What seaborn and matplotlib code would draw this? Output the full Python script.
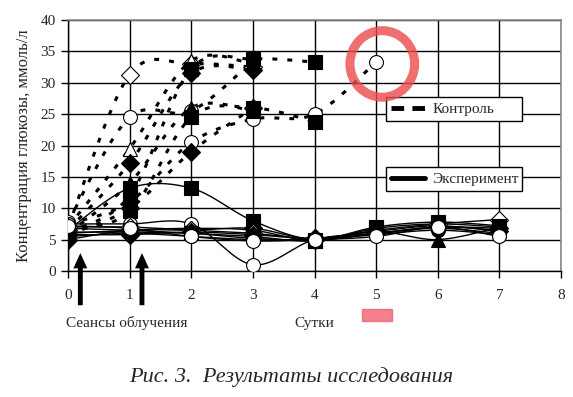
import matplotlib
matplotlib.use("Agg")

import numpy as np
import pandas as pd
import matplotlib.pyplot as plt
import seaborn as sns
from matplotlib.lines import Line2D
from matplotlib.patches import Ellipse, Rectangle

# ==========================
# Data (glucose, mmol/l, by day)
# ==========================

days = [0, 1, 2, 3, 4, 5, 6, 7]

# control group (dashed lines), one list per animal
control = [
    [7.0, 31.3, 33.0, 32.5],
    [7.8, 24.5, 25.5, 33.5],
    [7.5, 11.0, 20.5, 24.2, 25.0, 33.3],
    [7.0, 19.5, 33.5, 33.0],
    [6.5, 9.5, 24.5, 26.0, 23.8],
    [6.2, 12.0, 32.2, 33.8, 33.3],
    [6.5, 17.2, 31.5, 32.0],
    [5.8, 10.0, 19.0, 26.0],
    [6.0, 14.0, 26.0, 25.5],
]
control_markers = ["D", "o", "o", "^", "s", "s", "D", "D", "^"]
control_filled = [False, False, False, False, True, True, True, True, True]

# experiment group (solid lines)
experiment = [
    [6.5, 13.2, 13.2, 8.0, 5.0, 6.8, 7.5, 7.0],
    [7.5, 7.5, 7.5, 1.0, 5.0, 6.0, 7.0, 6.5],
    [5.5, 6.0, 5.5, 5.0, 5.0, 5.8, 6.5, 5.8],
    [5.0, 6.5, 6.5, 6.8, 5.0, 6.0, 7.0, 6.8],
    [6.0, 6.5, 6.8, 6.5, 4.8, 6.3, 5.0, 7.0],
    [7.0, 7.0, 6.5, 6.0, 5.2, 6.5, 7.5, 8.2],
    [6.8, 6.5, 6.0, 5.5, 4.8, 7.0, 7.8, 7.2],
    [6.2, 6.2, 6.0, 5.2, 5.0, 6.0, 6.8, 6.0],
    [5.8, 5.8, 6.2, 5.8, 5.2, 6.3, 7.2, 6.3],
    [7.2, 6.8, 5.5, 4.8, 5.0, 5.5, 7.0, 5.5],
]
experiment_markers = ["s", "o", "o", "D", "^", "D", "s", "o", "D", "o"]
experiment_filled = [True, False, True, True, True, False, True, True, True, False]

irradiation_days = [0.2, 1.2]


def smooth(x, y, n=20):
    # Excel-like smoothed line (Bezier with tension 1/6)
    x = np.asarray(x, float)
    y = np.asarray(y, float)
    px, py = [], []
    for i in range(len(x) - 1):
        i0 = max(i - 1, 0)
        i3 = min(i + 2, len(x) - 1)
        c1x = x[i] + (x[i + 1] - x[i0]) / 6
        c1y = y[i] + (y[i + 1] - y[i0]) / 6
        c2x = x[i + 1] - (x[i3] - x[i]) / 6
        c2y = y[i + 1] - (y[i3] - y[i]) / 6
        t = np.linspace(0, 1, n)
        px += list((1 - t) ** 3 * x[i] + 3 * (1 - t) ** 2 * t * c1x + 3 * (1 - t) * t ** 2 * c2x + t ** 3 * x[i + 1])
        py += list((1 - t) ** 3 * y[i] + 3 * (1 - t) ** 2 * t * c1y + 3 * (1 - t) * t ** 2 * c2y + t ** 3 * y[i + 1])
    return pd.DataFrame({"x": px, "y": py})


def msize(m):
    return {"D": 9, "^": 10}.get(m, 10)


sns.set_style("white")
plt.rcParams["font.family"] = ["Liberation Serif", "DejaVu Serif"]

fig = plt.figure(figsize=(5.73, 3.97), dpi=100)
ax = fig.add_axes([0.1187, 0.3174, 0.8604, 0.6322])

dash = (0, (1.6, 3.3))

for vals, m, f in zip(control, control_markers, control_filled):
    d = days[:len(vals)]
    sns.lineplot(data=smooth(d, vals), x="x", y="y", ax=ax, sort=False,
                 color="black", lw=2.2, linestyle=dash, zorder=3)
    ax.plot(d, vals, ls="none", marker=m, ms=msize(m),
            mfc="black" if f else "white", mec="black", mew=0.8, zorder=5)

for vals, m, f in zip(experiment, experiment_markers, experiment_filled):
    sns.lineplot(data=smooth(days, vals), x="x", y="y", ax=ax, sort=False,
                 color="black", lw=1.0, zorder=3)
    ax.plot(days, vals, ls="none", marker=m, ms=msize(m),
            mfc="black" if f else "white", mec="black", mew=0.8, zorder=5)

ax.set_xlim(0, 8)
ax.set_ylim(0, 40)
ax.set_xticks(range(0, 9))
ax.set_yticks(range(0, 41, 5))
ax.grid(True, color="black", lw=1.0)
ax.set_axisbelow(True)
ax.tick_params(axis="both", direction="out", length=5, width=1, color="black",
               labelsize=11, bottom=True, left=True)
ax.tick_params(axis="x", pad=8)
ax.tick_params(axis="y", pad=4)
for s in ["left", "bottom"]:
    ax.spines[s].set_color("black")
    ax.spines[s].set_linewidth(1.0)
for s in ["right", "top"]:
    ax.spines[s].set_color("#8a8a8a")
    ax.spines[s].set_linewidth(1.2)
ax.set_xlabel("")
ax.set_ylabel("Концентрация глюкозы, ммоль/л", fontsize=12, labelpad=6)

# legends, two separate boxes
leg_kw = dict(loc="upper left", mode="expand", fancybox=False, framealpha=1,
              edgecolor="black", fontsize=11, handlelength=2.2, handletextpad=0.5,
              borderaxespad=0, borderpad=0.35)
leg1 = ax.legend(handles=[Line2D([], [], color="black", lw=3.5, linestyle=(0, (2.6, 1.7)))],
                 labels=["Контроль"], bbox_to_anchor=(0.645, 0.594, 0.276, 0.099), **leg_kw)
leg1.get_frame().set_linewidth(1.0)
ax.add_artist(leg1)
leg2 = ax.legend(handles=[Line2D([], [], color="black", lw=3.5)],
                 labels=["Эксперимент"], bbox_to_anchor=(0.645, 0.315, 0.276, 0.099), **leg_kw)
leg2.get_frame().set_linewidth(1.0)
for lg in (leg1, leg2):
    lg.set_zorder(6)

# irradiation arrows
for xd in irradiation_days:
    ax.annotate("", xy=(xd, 3.3), xytext=(xd, -5.9), annotation_clip=False,
                arrowprops=dict(arrowstyle="simple,head_length=1.1,head_width=1.0,tail_width=0.35",
                                mutation_scale=10, color="black", lw=0))

# red marking around day 5
ax.add_patch(Ellipse((5.1, 33.0), 1.05, 10.6, fill=False, lw=6.5, ec="#ec4a4a",
                     alpha=0.8, zorder=7))

fig.text(66 / 573, 1 - 323 / 397, "Сеансы облучения", fontsize=11, ha="left", va="center")
fig.text(314 / 573, 1 - 323 / 397, "Сутки", fontsize=11, ha="center", va="center")
fig.add_artist(Rectangle((362 / 573, 1 - 321 / 397), 30 / 573, 12 / 397,
                         transform=fig.transFigure, color="#f06070", alpha=0.8))
fig.text(0.508, 1 - 377 / 397, "Рис. 3.  Результаты исследования", fontsize=16,
         style="italic", ha="center", va="center")

fig.savefig("out.png", dpi=100)
